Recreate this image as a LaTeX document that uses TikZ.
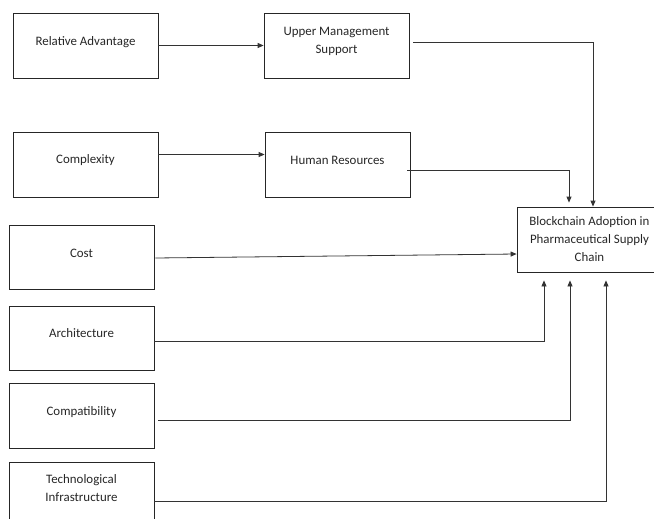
\documentclass[tikz,border=0pt]{standalone}
\usepackage{fontspec}
\setmainfont{Carlito}
\usetikzlibrary{arrows.meta}
\begin{document}
\begin{tikzpicture}[x=1pt,y=-1pt,
  box/.style={draw=black!85,line width=0.8pt,minimum width=145pt,minimum height=65pt,inner sep=0pt},
  lbl/.style={align=center,inner sep=0pt,font=\fontsize{12.9}{18}\selectfont,text=black!85},
  arr/.style={draw=black!80,line width=0.8pt,-{Triangle[length=6pt,width=5pt]}},
  ln/.style={draw=black!80,line width=0.8pt}]
\useasboundingbox (0,0) rectangle (654,519);
% boxes
\node[box] (ra)   at (85.5,45.5) {};
\node[box] (ums)  at (336.5,45.5) {};
\node[box] (cx)   at (85.5,164.5) {};
\node[box] (hr)   at (337.5,164.5) {};
\node[box] (bc)   at (589.5,239.5) {};
\node[box,minimum height=64pt] (cost) at (81.5,257) {};
\node[box,minimum height=64pt] (arch) at (81.5,338) {};
\node[box] (comp) at (81.5,415.5) {};
\node[box] (tech) at (81.5,494.5) {};
% labels
\node[lbl] (ral) at ([yshift=3.5pt]ra.center) {Relative Advantage};
\node[lbl] (umsl) at ([yshift=4.5pt]ums.center) {Upper Management\\Support};
\node[lbl] (cxl) at ([yshift=4.5pt]cx.center) {Complexity};
\node[lbl] (hrl) at ([yshift=4.5pt]hr.center) {Human Resources};
\node[lbl] (bcl) at (bc.center) {Blockchain Adoption in\\Pharmaceutical Supply\\Chain};
\node[lbl] (costl) at ([yshift=4pt]cost.center) {Cost};
\node[lbl] (archl) at ([yshift=5pt]arch.center) {Architecture};
\node[lbl] (compl) at ([yshift=3.5pt]comp.center) {Compatibility};
\node[lbl] (techl) at ([yshift=6.5pt]tech.center) {Technological\\Infrastructure};
% connectors
\draw[arr] (ra.east) -- (ums.west);
\draw[arr] ([yshift=10pt]cx.east) -- ([yshift=10pt]hr.west);
\draw[arr] ([xshift=4pt,yshift=3.5pt]ums.east) -| ([xshift=3.5pt]bc.north);
\draw[arr] ([xshift=-3pt,yshift=-5.5pt]hr.east) -| ([xshift=-20.5pt,yshift=4pt]bc.north);
\draw[arr] ([xshift=1pt,yshift=-1pt]cost.east) -- ([yshift=-14.5pt]bc.west);
\draw[arr] ([yshift=-3pt]arch.east) -| ([xshift=-45.5pt,yshift=-8pt]bc.south);
\draw[arr] ([xshift=4pt,yshift=-4.5pt]comp.east) -| ([xshift=-19.5pt,yshift=-8pt]bc.south);
\draw[arr] ([yshift=-6.5pt]tech.east) -| ([xshift=16.5pt,yshift=-8pt]bc.south);
\end{tikzpicture}
\end{document}
